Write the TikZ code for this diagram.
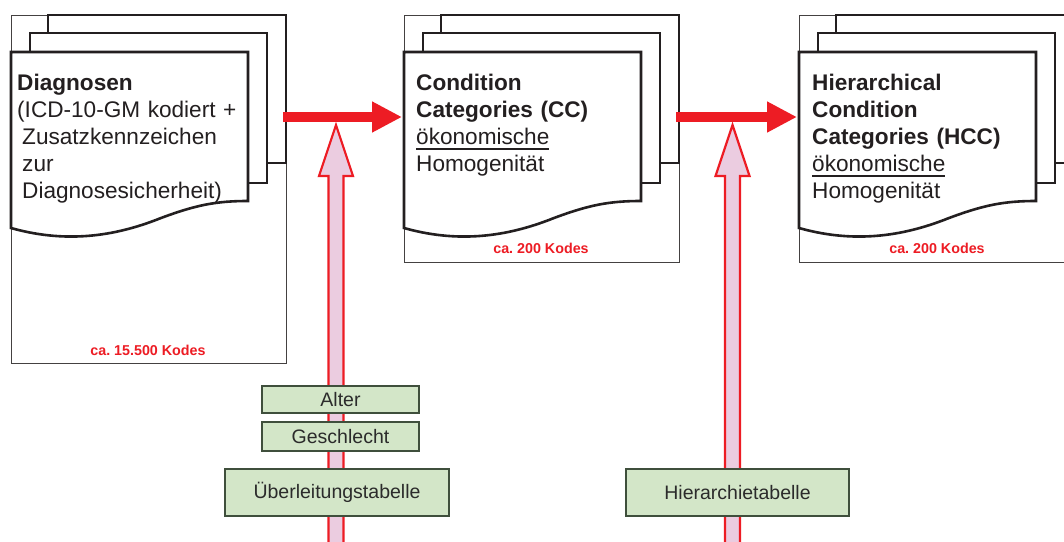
\documentclass[tikz,border=0pt]{standalone}
\usepackage{fontspec}
\setmainfont{Liberation Sans}
\usetikzlibrary{arrows.meta,calc}
\definecolor{ink}{HTML}{231F20}
\definecolor{redA}{HTML}{ED1C24}
\definecolor{pinkF}{HTML}{EBCCE0}
\definecolor{greenF}{HTML}{D3E6C8}
\definecolor{greenD}{HTML}{3F4F3C}
\definecolor{txt}{HTML}{2B2B2B}
\frenchspacing
\newcommand\ulx[1]{\leavevmode\setbox0\hbox{#1}\rlap{\rule[-5.5pt]{\wd0}{1.8pt}}\box0}
\newcommand\docstack[3]{%
  \begin{scope}[shift={(#1,0)}]
    \node[outerbox, anchor=north west, minimum width=275pt, minimum height={(#2-15)*1pt}] (#3) at (0,15) {};
    \draw[page] (37,15) rectangle (275,163);
    \draw[page] (19,33) rectangle (256,183);
    \draw[page] (0,52) -- (237,52) -- (237,201)
      .. controls (205,201) and (185,205) .. (150,218)
      .. controls (110,234) and (60,245) .. (0,228) -- cycle;
  \end{scope}}
\begin{document}
\begin{tikzpicture}[x=1pt,y=-1pt,
  outerbox/.style={draw=ink!85, line width=0.9pt, fill=white, inner sep=0pt, outer sep=0pt},
  page/.style={draw=ink, line width=2.6pt, fill=white, line join=miter},
  doctext/.style={anchor=base west, inner sep=0pt, align=left, text width=230pt, font=\fontsize{22.6}{27}\selectfont, text=ink},
  codes/.style={anchor=base, inner sep=0pt, font=\fontsize{14.3}{16}\selectfont\bfseries, text=redA},
  redarrow/.style={draw=redA, line width=10pt, -{Triangle[length=30pt,width=29pt]}},
  pinkarrow/.style={draw=redA, line width=2.2pt, fill=pinkF, line join=miter},
  greenbox/.style={draw=greenD, line width=1.3pt, fill=greenF, inner sep=0pt, font=\fontsize{19.5}{22}\selectfont, text=txt}]
\useasboundingbox (0,0) rectangle (1064,541);
\clip (0,0) rectangle (1064,541);

\docstack{11}{363}{box1}
\docstack{404}{262}{box2}
\docstack{799}{262}{box3}

% texts
\node[doctext] (t1) at (17,90) {\textbf{Diagnosen}\\(ICD-10-GM kodiert +\\\hspace*{5pt}Zusatzkennzeichen\\\hspace*{5pt}zur\\\hspace*{5pt}Diagnosesicherheit)};
\node[doctext] (t2) at (416,90) {\textbf{Condition}\\\textbf{Categories (CC)}\\\ulx{ökonomische}\\Homogenität};
\node[doctext] (t3) at (812,90) {\textbf{Hierarchical}\\\textbf{Condition}\\\textbf{Categories (HCC)}\\\ulx{ökonomische}\\Homogenität};

\node[codes] (c1) at (148,355) {ca. 15.500 Kodes};
\node[codes] (c2) at (541,253) {ca. 200 Kodes};
\node[codes] (c3) at (937,253) {ca. 200 Kodes};

% vertical pink arrows
\coordinate (tipA) at (336,125);
\coordinate (tipB) at (732.5,125);
\draw[pinkarrow] (tipA) -- ++(17,51) -- ++(-9.5,0) -- ++(0,400) -- ++(-15,0) -- ++(0,-400) -- ++(-9.5,0) -- cycle;
\draw[pinkarrow] (tipB) -- ++(17,51) -- ++(-9.5,0) -- ++(0,400) -- ++(-15,0) -- ++(0,-400) -- ++(-9.5,0) -- cycle;

% horizontal red arrows
\coordinate (row) at (0,117);
\draw[redarrow] ([xshift=-3pt]box1.east |- row) -- ([xshift=-2pt]box2.west |- row);
\draw[redarrow] ([xshift=-3pt]box2.east |- row) -- ([xshift=-2pt]box3.west |- row);

% green boxes
\node[greenbox, minimum width=157pt, minimum height=27pt] (alter) at (340.5,399.5) {Alter};
\node[greenbox, minimum width=157pt, minimum height=29pt] (geschlecht) at (340.5,436.5) {Geschlecht};
\node[greenbox, minimum width=224pt, minimum height=47pt] (ueber) at (337,492.5) {Überleitungstabelle};
\node[greenbox, minimum width=223pt, minimum height=47pt] (hier) at (737.5,492.5) {Hierarchietabelle};
\end{tikzpicture}
\end{document}
